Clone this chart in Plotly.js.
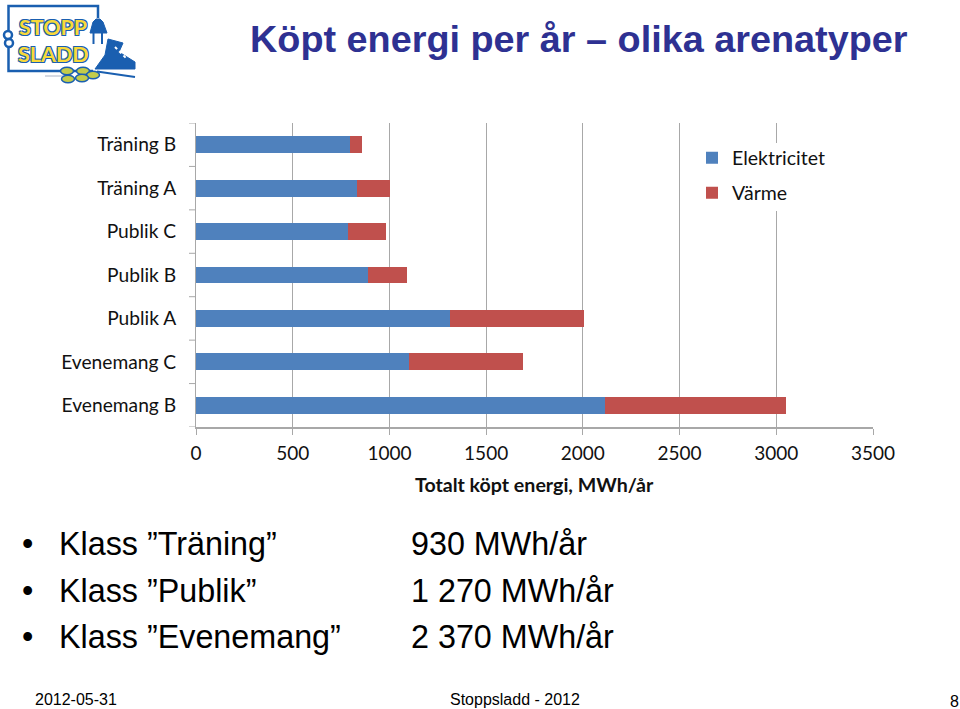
<!DOCTYPE html>
<html><head><meta charset="utf-8">
<script src="https://cdn.plot.ly/plotly-3.0.1.min.js"></script>
<style>html,body{margin:0;padding:0;background:#fff}#c{width:960px;height:709px}</style>
</head><body><div id="c"></div>
<script>
const categories=["Evenemang B","Evenemang C","Publik A","Publik B","Publik C","Träning A","Träning B"];
const elektricitet=[2116,1103,1313,887,788,834,796];
const varme=[934,585,695,204,193,167,62];
const xTicks=[0,500,1000,1500,2000,2500,3000,3500];
const classNames=["Klass ”Träning”","Klass ”Publik”","Klass ”Evenemang”"];
const classValues=["930 MWh/år","1 270 MWh/år","2 370 MWh/år"];

const W=960,H=709,L=196,R=873,T=123,B=427;
const px=x=>(x-L)/(R-L), py=y=>(B-y)/(B-T);
const AR="Liberation Sans, Arial, sans-serif", CH="Lato, sans-serif";
const gridC="#a8a8a8", blue="#1a5fb0", logoYellow="#f7d93a";
function txt(x,y,text,size,color,anchor,bold,family){
  return {xref:"paper",yref:"paper",x:px(x),y:py(y),text:bold?"<b>"+text+"</b>":text,showarrow:false,
    xanchor:anchor||"left",yanchor:"middle",font:{family:family||AR,size:size,color:color||"#000"}};
}
const logoOutline="1px 1px 0 #1a5fb0,-1px -1px 0 #1a5fb0,1px -1px 0 #1a5fb0,-1px 1px 0 #1a5fb0";
const logoA=txt(53,26.5,"STOPP",21.5,logoYellow,"center",true,CH);
logoA.font.shadow=logoOutline; logoA.font.weight=900; logoA.borderpad=0;
const logoB=txt(53,54,"SLADD",21.5,logoYellow,"center",true,CH);
logoB.font.shadow=logoOutline; logoB.font.weight=900; logoB.borderpad=0;
const annotations=[
  txt(579,39,"Köpt energi per år – olika arenatyper",37.8,"#2e3192","center",true),
  txt(413,484.5,"Totalt köpt energi, MWh/år",19.6,"#111","left",true,CH),
  txt(76,699,"2012-05-31",16,"#000","center"),
  txt(515,699,"Stoppsladd - 2012",16,"#000","center"),
  txt(954,701,"8",16,"#000","center"),
  logoA,logoB
];
const rowY=[544,591,637];
classNames.forEach((n,i)=>{
  annotations.push(txt(20,rowY[i],"•",32.3,"#000","left"));
  annotations.push(txt(57,rowY[i],n,32.3,"#000","left"));
  annotations.push(txt(409,rowY[i],classValues[i],32.3,"#000","left"));
});
function sh(o){return Object.assign({xref:"paper",yref:"paper",layer:"above"},o);}
function path(pts,close){return pts.map((p,i)=>(i?"L":"M")+px(p[0])+","+py(p[1])).join(" ")+(close?" Z":"");}
function puck(cx,cy){return sh({type:"circle",x0:px(cx-6.5),x1:px(cx+6.5),y0:py(cy+3.8),y1:py(cy-3.8),fillcolor:"#c3cc4a",line:{color:blue,width:1.5}});}
const yTickShapes=categories.concat([""]).map((c,i)=>({type:"line",xref:"paper",yref:"y",x0:px(189),x1:0,y0:i-0.5,y1:i-0.5,line:{color:gridC,width:1}}));
const shapes=[
  ...yTickShapes,
  // the legend panel interrupts the gridline at 3000
  sh({type:"rect",x0:px(700),x1:px(830),y0:py(211),y1:py(143),fillcolor:"#fff",line:{width:0}}),
  sh({type:"path",path:path([[98,18],[98,6],[8.5,6],[8.5,32]]),line:{color:blue,width:2.5}}),
  sh({type:"path",path:path([[8.5,46],[8.5,71],[93,71]]),line:{color:blue,width:2.5}}),
  sh({type:"circle",x0:px(4),x1:px(12),y0:py(39),y1:py(31),line:{color:blue,width:2.5}}),
  sh({type:"circle",x0:px(5),x1:px(13),y0:py(47),y1:py(39),line:{color:blue,width:2.5}}),
  sh({type:"path",path:path([[90,33],[107,33],[103,22],[100,19],[96,19],[93,22]],true),fillcolor:blue,line:{color:blue,width:1}}),
  sh({type:"path",path:path([[93.5,33],[93.5,44]]),line:{color:blue,width:2}}),
  sh({type:"path",path:path([[102,33],[102,44]]),line:{color:blue,width:2}}),
  sh({type:"path",path:path([[108,39],[123,43],[119,52],[135,62],[135,69],[95,69],[105,55]],true),fillcolor:blue,line:{color:blue,width:1}}),
  sh({type:"path",path:path([[115,47],[120,52],[126,58]]),line:{color:"#fff",width:2,dash:"dot"}}),
  sh({type:"path",path:path([[97,71.5],[135,77]]),line:{color:blue,width:2}}),
  sh({type:"path",path:path([[45,76],[64,76]]),line:{color:"#aab2c4",width:1}}),
  puck(67,71),puck(83,71),puck(93,75),puck(68,79),puck(82,78)
];
const data=[
  {type:"bar",orientation:"h",name:"Elektricitet",y:categories,x:elektricitet,marker:{color:"#4f81bd"},legend:"legend"},
  {type:"bar",orientation:"h",name:"Värme",y:categories,x:varme,marker:{color:"#c0504d"},legend:"legend2"}
];
const legendBase={xref:"paper",yref:"paper",x:px(703),xanchor:"left",yanchor:"middle",bgcolor:"rgba(255,255,255,0)",
  font:{family:CH,size:19.5,color:"#111"},itemwidth:30,indentation:-11,itemclick:false};
Plotly.newPlot("c",data,{
  width:W,height:H,autosize:false,paper_bgcolor:"#fff",plot_bgcolor:"#fff",
  margin:{l:L,r:W-R,t:T,b:H-B,pad:0},
  barmode:"stack",bargap:0.61,showlegend:true,
  legend:Object.assign({},legendBase,{y:py(158)}),
  legend2:Object.assign({},legendBase,{y:py(193)}),
  xaxis:{range:[0,3500],tickmode:"array",tickvals:xTicks,ticktext:xTicks.map(String),ticks:"outside",ticklen:6,tickcolor:gridC,tickwidth:1,
    showgrid:true,gridcolor:gridC,gridwidth:1,zeroline:false,showline:true,linecolor:gridC,linewidth:1.5,
    tickfont:{family:CH,size:19,color:"#111"},ticklabelstandoff:3},
  yaxis:{type:"category",categoryorder:"array",categoryarray:categories,range:[-0.5,6.5],ticks:"",showgrid:false,zeroline:false,
    showline:true,linecolor:gridC,linewidth:1,tickfont:{family:CH,size:19.2,color:"#111"},ticklabelstandoff:15},
  annotations:annotations,shapes:shapes
},{displayModeBar:false,staticPlot:true});
</script></body></html>
